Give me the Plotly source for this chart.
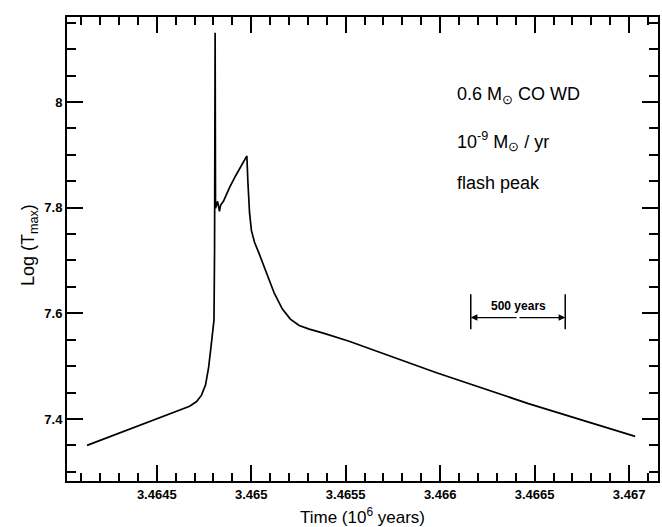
import plotly.graph_objects as go

# Time in units of 10^6 years, log of maximum temperature
time_myr = [
    3.464131, 3.464674, 3.464711, 3.464737, 3.464758, 3.464774, 3.464785,
    3.464795, 3.464803, 3.464806, 3.464809, 3.464811, 3.464822, 3.464832,
    3.464838, 3.464853, 3.464885, 3.464917, 3.464977, 3.464982, 3.464991,
    3.465001, 3.465017, 3.465043, 3.465080, 3.465122, 3.465165, 3.465207,
    3.465254, 3.465307, 3.465386, 3.465518, 3.465977, 3.466467, 3.467032,
]
log_tmax = [
    7.350, 7.424, 7.433, 7.445, 7.464, 7.496, 7.530,
    7.562, 7.587, 7.719, 8.131, 7.799, 7.812, 7.793,
    7.805, 7.812, 7.838, 7.860, 7.898, 7.852, 7.791,
    7.757, 7.735, 7.712, 7.678, 7.638, 7.608, 7.589,
    7.577, 7.570, 7.562, 7.547, 7.488, 7.429, 7.367,
]

x_tickvals = [3.4645, 3.465, 3.4655, 3.466, 3.4665, 3.467]
x_ticktext = ["3.4645", "3.465", "3.4655", "3.466", "3.4665", "3.467"]
y_tickvals = [7.4, 7.6, 7.8, 8.0]
y_ticktext = ["7.4", "7.6", "7.8", "8"]

info_lines = [
    "0.6 M<sub>⊙</sub> CO WD",
    "10<sup>-9</sup> M<sub>⊙</sub> / yr",
    "flash peak",
]
info_y = [8.013, 7.926, 7.846]

# scale bar: 500 years = 0.0005 x 10^6 years
bar_center = 3.466412
bar_span = 0.0005
bar_label = "500 years"
bar_y = 7.592
bar_y0, bar_y1 = 7.570, 7.636

FONT = "Liberation Sans, Arial, sans-serif"

fig = go.Figure()
fig.add_trace(go.Scatter(
    x=time_myr, y=log_tmax, mode="lines",
    line=dict(color="black", width=1.7),
    showlegend=False, hoverinfo="skip",
))

bar_left = bar_center - bar_span / 2
bar_right = bar_center + bar_span / 2
for xe in (bar_left, bar_right):
    fig.add_shape(type="line", xref="x", yref="y", x0=xe, x1=xe,
                  y0=bar_y0, y1=bar_y1, line=dict(color="black", width=1.5))
    fig.add_annotation(x=xe, y=bar_y, ax=bar_center, ay=bar_y,
                       xref="x", yref="y", axref="x", ayref="y",
                       text="", showarrow=True, arrowhead=2, arrowsize=1.1,
                       arrowwidth=1.2, arrowcolor="black", standoff=0)
fig.add_annotation(x=bar_center, y=bar_y, xref="x", yref="y", text=bar_label,
                   showarrow=False, yanchor="bottom", yshift=3,
                   font=dict(family=FONT, size=12, color="black", weight="bold"))

for txt, yv in zip(info_lines, info_y):
    fig.add_annotation(x=0.656, y=yv, xref="paper", yref="y", text=txt,
                       showarrow=False, xanchor="left", yanchor="middle",
                       font=dict(family=FONT, size=18, color="black"))

fig.add_annotation(x=0.5, y=-0.075, xref="paper", yref="paper",
                   text="Time (10<sup>6</sup> years)", showarrow=False,
                   xanchor="center", yanchor="middle",
                   font=dict(family=FONT, size=17, color="black"))
fig.add_annotation(x=-0.063, y=0.508, xref="paper", yref="paper",
                   text="Log (T<sub>max</sub>)", showarrow=False, textangle=-90,
                   xanchor="center", yanchor="middle",
                   font=dict(family=FONT, size=18, color="black"))

axis_common = dict(
    showgrid=False, zeroline=False, showline=True, linecolor="black",
    linewidth=2, mirror="ticks", ticks="inside", tickcolor="black",
    tickwidth=1.5, ticklen=16,
    tickfont=dict(family=FONT, size=13, color="black", weight="bold"),
)

fig.update_xaxes(
    range=[3.464025, 3.467153], tickmode="array",
    tickvals=x_tickvals, ticktext=x_ticktext,
    minor=dict(ticks="inside", dtick=0.0001, tick0=3.4645, ticklen=8,
               tickwidth=1.5, tickcolor="black", showgrid=False),
    **axis_common,
)
fig.update_yaxes(
    range=[7.2825, 8.161], tickmode="array",
    tickvals=y_tickvals, ticktext=y_ticktext,
    minor=dict(ticks="inside", dtick=0.05, tick0=7.3, ticklen=9,
               tickwidth=1.5, tickcolor="black", showgrid=False),
    **axis_common,
)

fig.update_layout(
    width=662, height=527,
    margin=dict(l=67, r=2, t=17, b=46),
    paper_bgcolor="white", plot_bgcolor="white",
)

fig.write_html("out.html")
